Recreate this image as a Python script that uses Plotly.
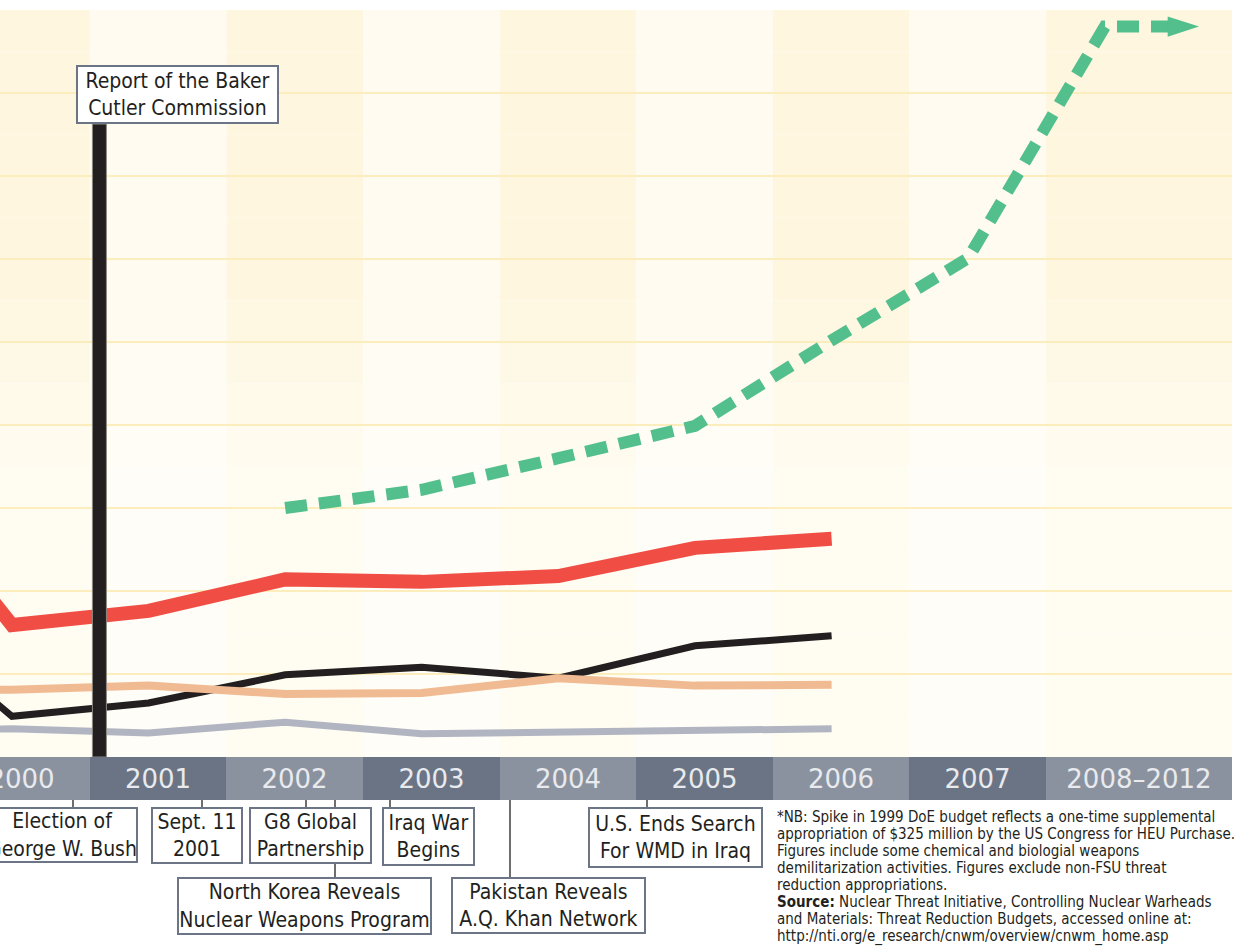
import plotly.graph_objects as go

# DATA (values in $ millions; 1 gridline = 100)
years = [1999, 2000, 2001, 2002, 2003, 2004, 2005, 2006]
red_vals = [365, 159, 176, 214, 211, 218, 252, 263]
black_vals = [187, 49, 65, 99, 108, 95, 134, 146]
peach_vals = [82, 81, 86, 76, 77, 95, 86, 87]
gray_vals = [31, 34, 29, 42, 28, 30, 33, 34]

green_years = [2002, 2003, 2004, 2005, 2006, 2007, 2008, 2008.69]
green_vals = [300, 322, 360, 399, 502, 601, 880, 880]

band_years = [2000, 2001, 2002, 2003, 2004, 2005, 2006, 2007, 2008]
band_labels = ["2000", "2001", "2002", "2003", "2004", "2005", "2006", "2007", "2008–2012"]

baker_cutler_x = 2000.64

# GEOMETRY (pixels of the 1241x946 page)
W, H = 1241, 946
PX_PER_YEAR = 136.6
PLOT_LEFT, PLOT_RIGHT = 0, 1232
PLOT_TOP, PLOT_BOTTOM = 10, 800
BAND_H = 43
PLOT_H = PLOT_BOTTOM - PLOT_TOP


def px_x(px):
    return 2000 + (px - 12) / PX_PER_YEAR


def px_y(py):
    return (PLOT_BOTTOM - py) / PLOT_H


X0, X1 = px_x(PLOT_LEFT), px_x(PLOT_RIGHT)

FONT = "DejaVu Sans Condensed, Liberation Sans Narrow, DejaVu Sans, sans-serif"
INK = "#231f20"
BOX_LINE = "#6b7585"


def mix(c1, c2, t):
    a = [int(c1[i:i + 2], 16) for i in (1, 3, 5)]
    b = [int(c2[i:i + 2], 16) for i in (1, 3, 5)]
    return "#" + "".join(f"{round(x + (y - x) * t):02x}" for x, y in zip(a, b))


# band cell edges: each year cell starts 0.43 before the year, last cell runs to the edge
edges = [y - 0.43 for y in band_years] + [X1]
centers = [(a + b) / 2 for a, b in zip(edges[:-1], edges[1:])]
widths = [b - a for a, b in zip(edges[:-1], edges[1:])]

fig = go.Figure()

# background columns, fading from the top down
shapes = []
steps = 18
for i, (a, b) in enumerate(zip(edges[:-1], edges[1:])):
    top, bottom = ("#fef6de", "#fffcf2") if i % 2 == 0 else ("#fffbf0", "#fffdf7")
    for k in range(steps):
        y1 = 900 - k * 900 / steps
        y0 = y1 - 900 / steps
        t = min(1.0, max(0.0, (k - 6) / 5))
        shapes.append(dict(type="rect", xref="x", yref="y", x0=a, x1=b, y0=y0, y1=y1,
                           fillcolor=mix(top, bottom, t), line=dict(width=0), layer="below"))

# lines
fig.add_trace(go.Scatter(x=years, y=gray_vals, mode="lines",
                         line=dict(color="#b0b5c1", width=7), hoverinfo="skip"))
fig.add_trace(go.Scatter(x=years, y=black_vals, mode="lines",
                         line=dict(color=INK, width=7), hoverinfo="skip"))
fig.add_trace(go.Scatter(x=years, y=peach_vals, mode="lines",
                         line=dict(color="#f0bb92", width=8), hoverinfo="skip"))
fig.add_trace(go.Scatter(x=years, y=red_vals, mode="lines",
                         line=dict(color="#f04e45", width=14), hoverinfo="skip"))
fig.add_trace(go.Scatter(x=green_years[:-1] + [green_years[-1] - 0.12], y=green_vals, mode="lines",
                         line=dict(color="#52bf8d", width=12, dash="22px,12px"),
                         hoverinfo="skip"))
fig.add_trace(go.Scatter(x=green_years[-1:], y=green_vals[-1:], mode="markers",
                         marker=dict(symbol="arrow", angle=90, size=33, color="#52bf8d",
                                     line=dict(width=0)),
                         hoverinfo="skip"))

# year band
band_colors = ["#8b929f" if i % 2 == 0 else "#6a7484" for i in range(len(band_labels))]
fig.add_trace(go.Bar(x=centers, y=[1] * len(centers), width=widths, yaxis="y2",
                     marker=dict(color=band_colors, line=dict(width=0)),
                     text=band_labels, textposition="inside", insidetextanchor="middle",
                     textangle=0, constraintext="none",
                     textfont=dict(family="DejaVu Sans, sans-serif", size=26, color="#e8eaee"),
                     hoverinfo="skip"))

# Baker-Cutler event bar
shapes.append(dict(type="rect", xref="x", yref="y",
                   x0=baker_cutler_x - 7 / PX_PER_YEAR, x1=baker_cutler_x + 7 / PX_PER_YEAR,
                   y0=0, y1=(757 - 124) / 83 * 100,
                   fillcolor=INK, line=dict(color="#8d8a80", width=1), layer="above"))

# connectors from the band to the event boxes
for cx, bottom in [(73, 807), (202, 807), (306, 807), (335, 877), (390, 807), (510, 877), (647, 807)]:
    shapes.append(dict(type="line", xref="x", yref="paper", x0=px_x(cx), x1=px_x(cx),
                       y0=px_y(PLOT_BOTTOM), y1=px_y(bottom), line=dict(color=INK, width=1.3)))

annotations = []
boxes = [
    ("Report of the Baker<br>Cutler Commission", 177.5, 65, 203, 59),
    ("Election of<br>George W. Bush", 62, 807, 152, 56),
    ("Sept. 11<br>2001", 197, 807, 92, 57),
    ("G8 Global<br>Partnership", 310.5, 807, 123, 57),
    ("Iraq War<br>Begins", 428.5, 807, 93, 59),
    ("North Korea Reveals<br>Nuclear Weapons Program", 304.5, 877, 255, 58),
    ("Pakistan Reveals<br>A.Q. Khan Network", 548.5, 877, 195, 57),
    ("U.S. Ends Search<br>For WMD in Iraq", 675.5, 807, 175, 61),
]
for text, cx, top, w, h in boxes:
    annotations.append(dict(text=text, xref="x", yref="paper", x=px_x(cx), y=px_y(top),
                            xanchor="center", yanchor="top", showarrow=False,
                            width=w - 4, height=h - 4, borderpad=0, borderwidth=2,
                            bordercolor=BOX_LINE, bgcolor="white", align="center",
                            valign="middle", font=dict(family=FONT, size=21, color=INK)))

notes = [
    "*NB: Spike in 1999 DoE budget reflects a one-time supplemental",
    "appropriation of $325 million by the US Congress for HEU Purchase.",
    "Figures include some chemical and biologial weapons",
    "demilitarization activities. Figures exclude non-FSU threat",
    "reduction appropriations.",
    "<b>Source:</b> Nuclear Threat Initiative, Controlling Nuclear Warheads",
    "and Materials: Threat Reduction Budgets, accessed online at:",
    "http://nti.org/e_research/cnwm/overview/cnwm_home.asp",
]
for i, line in enumerate(notes):
    annotations.append(dict(text=line, xref="x", yref="paper", x=px_x(775),
                            y=px_y(817 + 17 * i), xanchor="left", yanchor="middle",
                            showarrow=False, align="left",
                            font=dict(family=FONT, size=15, color=INK)))

fig.update_layout(
    width=W, height=H,
    margin=dict(l=PLOT_LEFT, r=W - PLOT_RIGHT, t=PLOT_TOP, b=H - PLOT_BOTTOM),
    paper_bgcolor="white", plot_bgcolor="white",
    showlegend=False,
    xaxis=dict(range=[X0, X1], showgrid=False, zeroline=False, showticklabels=False,
               showline=False, ticks=""),
    yaxis=dict(domain=[BAND_H / PLOT_H, 1], range=[0, 900], dtick=100,
               gridcolor="#fcedbd", gridwidth=1.5, zeroline=False, showticklabels=False,
               showline=False, ticks=""),
    yaxis2=dict(domain=[0, BAND_H / PLOT_H], range=[0, 1], anchor="x", visible=False),
    bargap=0,
    shapes=shapes,
    annotations=annotations,
)

# drop the browser's default 8px body margin so the figure sits at the page corner
fig.write_html("out.html", config={"displayModeBar": False},
               post_script="document.body.style.margin='0px';")
